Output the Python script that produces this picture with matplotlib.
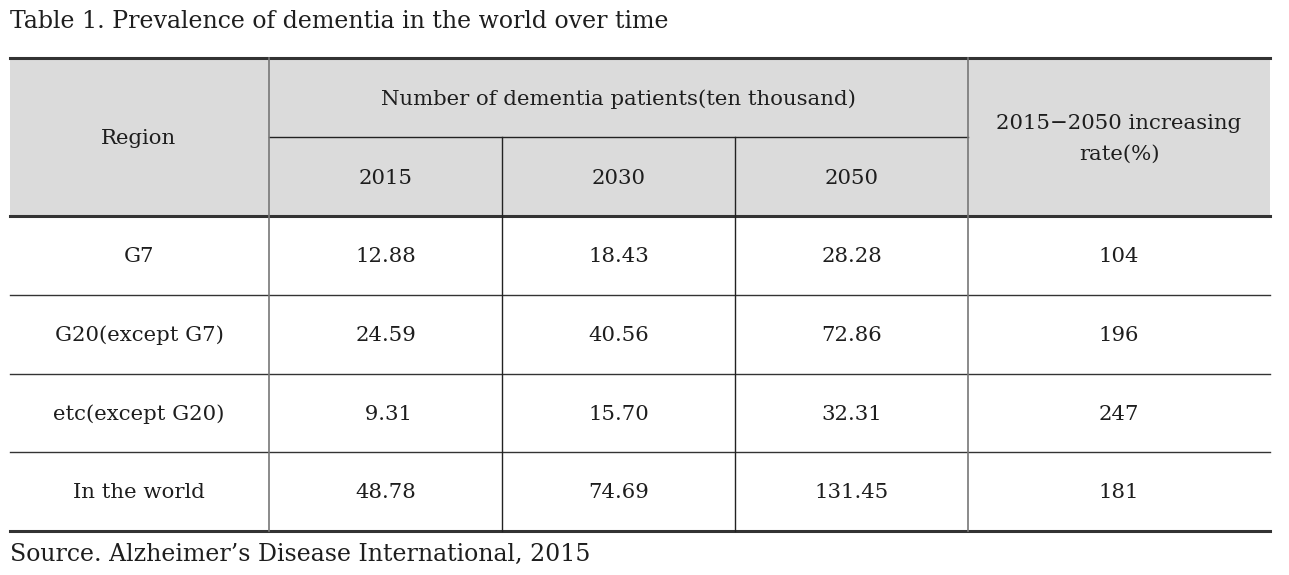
import matplotlib.pyplot as plt
from matplotlib.patches import Rectangle

# table contents
regions = ['G7', 'G20(except G7)', 'etc(except G20)', 'In the world']
years = ['2015', '2030', '2050']
patients_2015 = ['12.88', '24.59', ' 9.31', '48.78']
patients_2030 = ['18.43', '40.56', '15.70', '74.69']
patients_2050 = ['28.28', '72.86', '32.31', '131.45']
increase_rate = ['104', '196', '247', '181']

title = 'Table 1. Prevalence of dementia in the world over time'
source = 'Source. Alzheimer\u2019s Disease International, 2015'

W, H = 1289, 575
fig = plt.figure(figsize=(W / 100, H / 100), dpi=100)
ax = fig.add_axes([0, 0, 1, 1])
ax.set_xlim(0, W)
ax.set_ylim(H, 0)
ax.axis('off')

plt.rcParams['font.family'] = ['DejaVu Serif']
fs = 15.3
txt_color = '#1e1e1e'

# grid geometry (pixels)
x_edges = [10, 269, 502, 735, 968, 1270]
y_top, y_mid, y_head = 58, 137, 216
row_lines = [216, 295, 374, 452, 531]

# header background
ax.add_patch(Rectangle((x_edges[0], y_top), x_edges[-1] - x_edges[0], y_head - y_top,
                       facecolor='#dbdbdb', edgecolor='none', zorder=0))

# horizontal rules
for y in [y_top, y_head, row_lines[-1]]:
    ax.plot([x_edges[0], x_edges[-1]], [y, y], color='#333333', lw=2.2, zorder=2)
for y in row_lines[1:-1]:
    ax.plot([x_edges[0], x_edges[-1]], [y, y], color='#333333', lw=1.0, zorder=2)
ax.plot([x_edges[1], x_edges[4]], [y_mid, y_mid], color='#222222', lw=1.0, zorder=2)

# vertical rules
for x in [x_edges[1], x_edges[4]]:
    ax.plot([x, x], [y_top, row_lines[-1]], color='#777777', lw=1.2, zorder=2)
for x in [x_edges[2], x_edges[3]]:
    ax.plot([x, x], [y_mid, row_lines[-1]], color='#222222', lw=1.0, zorder=2)

centers = [(x_edges[i] + x_edges[i + 1]) / 2 for i in range(5)]
centers[0] = 139

# header text
ax.text(centers[0], (y_top + y_head) / 2 + 1, 'Region', ha='center', va='center', fontsize=fs, color=txt_color)
ax.text((x_edges[1] + x_edges[4]) / 2, (y_top + y_mid) / 2 + 2, 'Number of dementia patients(ten thousand)',
        ha='center', va='center', fontsize=fs, color=txt_color)
for i, yr in enumerate(years):
    ax.text(centers[i + 1], (y_mid + y_head) / 2 + 2, yr, ha='center', va='center', fontsize=fs, color=txt_color)
ax.text(centers[4], (y_top + y_head) / 2 + 2, '2015\u22122050 increasing\nrate(%)', ha='center', va='center',
        fontsize=fs, color=txt_color, linespacing=1.75)

# body
for r in range(len(regions)):
    yc = (row_lines[r] + row_lines[r + 1]) / 2 + 1
    vals = [regions[r], patients_2015[r], patients_2030[r], patients_2050[r], increase_rate[r]]
    for c, v in enumerate(vals):
        ax.text(centers[c], yc, v, ha='center', va='center', fontsize=fs, color=txt_color)

ax.text(10, 22, title, ha='left', va='center', fontsize=17, color=txt_color)
ax.text(10, 554, source, ha='left', va='center', fontsize=17, color=txt_color)

fig.savefig('out.png', dpi=100)
